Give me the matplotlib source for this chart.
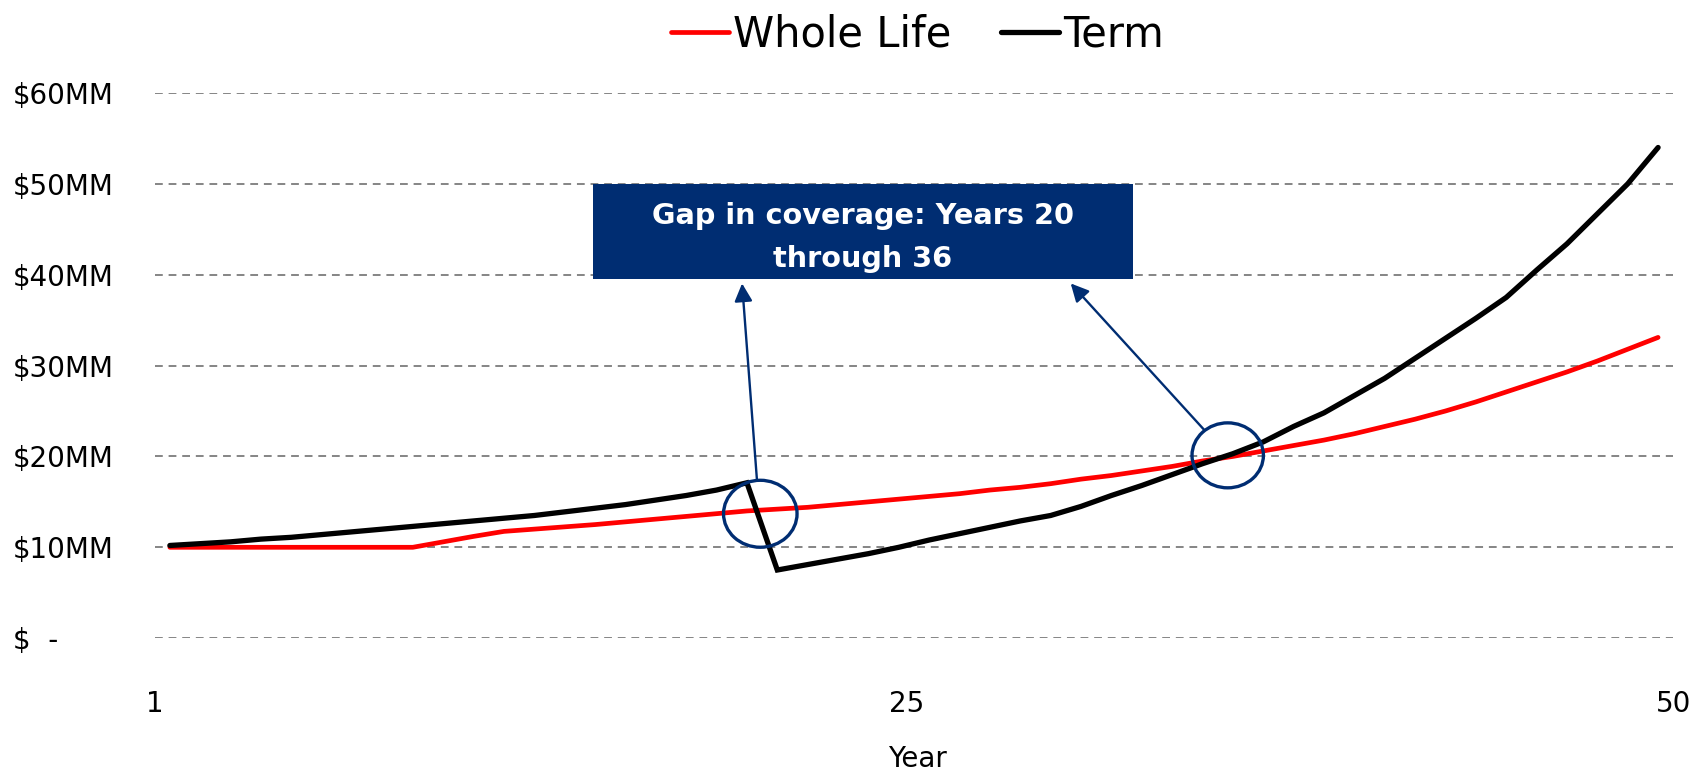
import matplotlib
matplotlib.use('Agg')
import matplotlib.pyplot as plt
from matplotlib.patches import Ellipse, Rectangle
from matplotlib.lines import Line2D

# ---------------- data ----------------
years = list(range(1, 51))
whole_life = [10.0, 10.0, 10.0, 10.0, 10.0, 10.0, 10.0, 10.0, 10.0, 10.6,
              11.2, 11.75, 12.0, 12.25, 12.5, 12.8, 13.1, 13.4, 13.7, 14.0,
              14.2, 14.4, 14.7, 15.0, 15.3, 15.6, 15.9, 16.3, 16.6, 17.0,
              17.5, 17.9, 18.4, 18.9, 19.5, 20.0, 20.6, 21.2, 21.8, 22.5,
              23.3, 24.1, 25.0, 26.0, 27.1, 28.2, 29.3, 30.5, 31.8, 33.1]
term = [10.2, 10.4, 10.6, 10.9, 11.1, 11.4, 11.7, 12.0, 12.3, 12.6,
        12.9, 13.2, 13.5, 13.9, 14.3, 14.7, 15.2, 15.7, 16.3, 17.1,
        7.5, 8.1, 8.7, 9.3, 10.0, 10.8, 11.5, 12.2, 12.9, 13.5,
        14.5, 15.7, 16.8, 18.0, 19.2, 20.3, 21.6, 23.3, 24.8, 26.7,
        28.6, 30.8, 33.0, 35.2, 37.5, 40.5, 43.4, 46.7, 50.0, 54.0]
series_names = ['Whole Life', 'Term']
y_ticks = [0, 10, 20, 30, 40, 50, 60]
y_tick_labels = ['$  -', '$10MM', '$20MM', '$30MM', '$40MM', '$50MM', '$60MM']
x_tick_labels = ['1', '25', '50']
x_label = 'Year'
callout_text = 'Gap in coverage: Years 20\nthrough 36'

# ---------------- style ----------------
NAVY = '#002d72'
RED = '#ff0000'
GRID = '#858585'
plt.rcParams['font.family'] = ['DejaVu Sans']

fig = plt.figure(figsize=(16.96, 7.71), dpi=100)
ax = fig.add_axes([0.0912, 0.1723, 0.8954, 0.7071])

ax.plot(years, whole_life, color=RED, lw=3.4, solid_capstyle='round',
        solid_joinstyle='round', clip_on=False, zorder=3)
ax.plot(years, term, color='black', lw=3.8, solid_capstyle='round',
        solid_joinstyle='miter', clip_on=False, zorder=3)

ax.set_xlim(0.5, 50.5)
ax.set_ylim(0, 60)
ax.set_yticks(y_ticks, y_tick_labels)
ax.set_xticks([0.5, 25.25, 50.5], x_tick_labels)
for s in ax.spines.values():
    s.set_visible(False)
ax.yaxis.grid(True, color=GRID, linestyle=(0, (4, 3)), lw=1.4)
ax.xaxis.grid(False)
ax.set_axisbelow(True)
ax.tick_params(axis='both', length=0, labelsize=20, colors='black')
ax.tick_params(axis='y', pad=102)
ax.tick_params(axis='x', pad=37)
for lab in ax.get_yticklabels():
    lab.set_ha('left')

fig.text(0.541, 1 - 759 / 771, x_label, ha='center', va='center', fontsize=20)

# legend
handles = [Line2D([0], [0], color=RED, lw=3.4, solid_capstyle='round'),
           Line2D([0], [0], color='black', lw=3.8, solid_capstyle='round')]
fig.legend(handles, series_names, loc='center', bbox_to_anchor=(0.541, 0.955),
           ncol=2, frameon=False, fontsize=30, handlelength=1.38,
           handletextpad=0.1, columnspacing=1.2)

# callout box
ax.add_patch(Rectangle((14.92, 39.53), 17.78, 10.47, facecolor=NAVY,
                       edgecolor='none', zorder=5))
ax.text(23.81, 44.1, callout_text, ha='center', va='center', color='white',
        fontsize=20.7, fontweight='bold', linespacing=1.65, zorder=6)

# circles
ax.add_patch(Ellipse((20.44, 13.69), 2.42, 7.37, fill=False, edgecolor=NAVY,
                     lw=2.4, zorder=4, clip_on=False))
ax.add_patch(Ellipse((35.83, 20.12), 2.35, 7.15, fill=False, edgecolor=NAVY,
                     lw=2.4, zorder=4, clip_on=False))

# arrows
for tail, head in [((20.33, 17.41), (19.84, 39.04)),
                   ((35.04, 22.98), (30.66, 39.04))]:
    ax.annotate('', xy=head, xytext=tail,
                arrowprops=dict(arrowstyle='-|>', color=NAVY, lw=1.7,
                                mutation_scale=27, shrinkA=0, shrinkB=0),
                zorder=4)

fig.savefig('out.png', dpi=100)
